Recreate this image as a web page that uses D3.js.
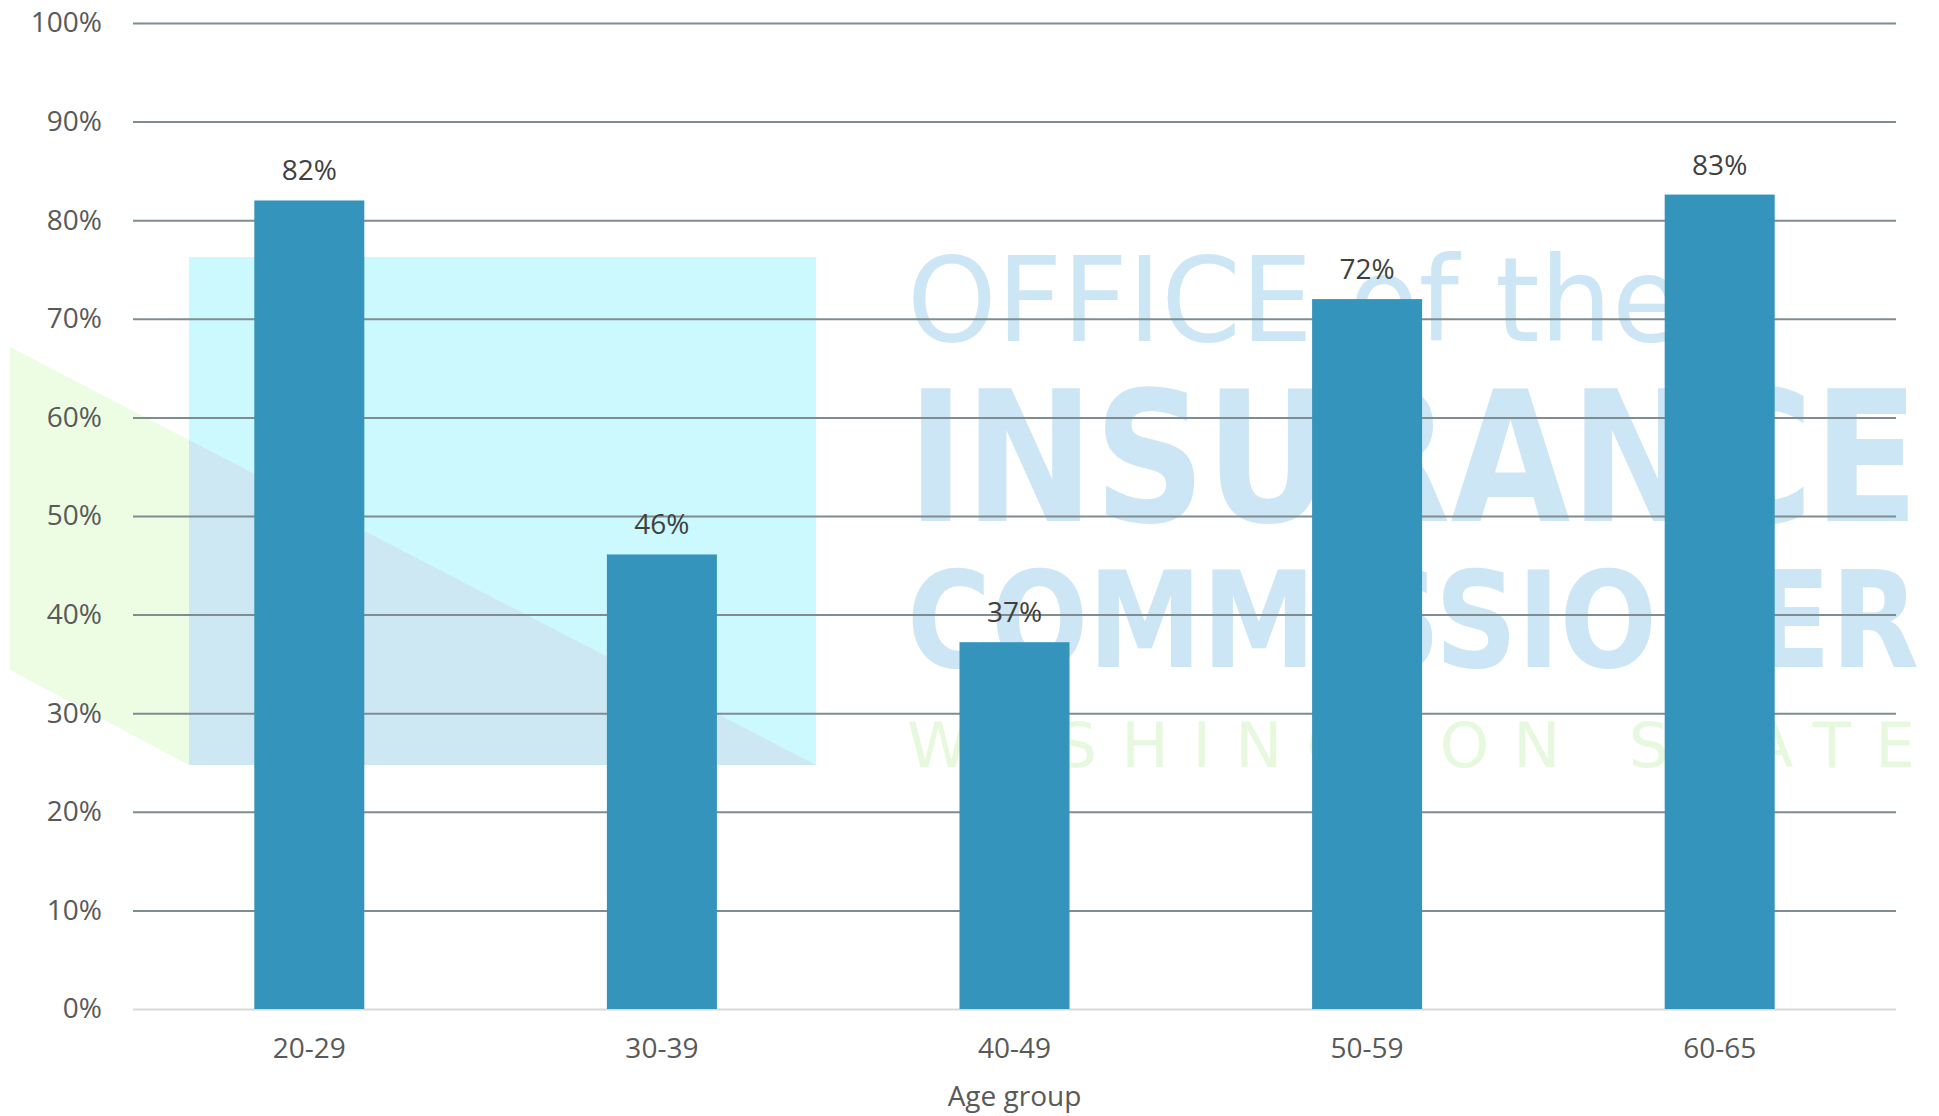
<!DOCTYPE html>
<html>
<head>
<meta charset="utf-8">
<script src="https://cdn.jsdelivr.net/npm/d3@7"></script>
<style>
  body { margin: 0; background: #fff; }
  text { font-family: "Open Sans", sans-serif; }
</style>
</head>
<body>
<div id="chart-container"></div>
<script>
const ageGroups = ["20-29", "30-39", "40-49", "50-59", "60-65"];
const shareValues = [0.82, 0.461, 0.372, 0.72, 0.826];
const yTicks = [0, 0.1, 0.2, 0.3, 0.4, 0.5, 0.6, 0.7, 0.8, 0.9, 1];
const xAxisName = "Age group";

const margin = { top: 23, right: 43, bottom: 107, left: 133 };
const width = 1939 - margin.left - margin.right;
const height = 1116 - margin.top - margin.bottom;

var root = d3.select("#chart-container")
    .append("svg")
    .attr("width", width + margin.left + margin.right)
    .attr("height", height + margin.top + margin.bottom);

// Watermark (background logo)
var mark = root.append("g").attr("class", "watermark");

mark.append("rect")
    .attr("x", 189).attr("y", 257)
    .attr("width", 627).attr("height", 508)
    .attr("fill", "#ccf9fd");

mark.append("polygon")
    .attr("points", "189,440 816,765 189,765")
    .attr("fill", "#cee8f3");

mark.append("polygon")
    .attr("points", "10,347 189,440 189,765 10,670")
    .attr("fill", "#ecfde4");

mark.append("text")
    .attr("x", 907).attr("y", 341)
    .attr("textLength", 775).attr("lengthAdjust", "spacingAndGlyphs")
    .style("font-family", "'DejaVu Sans', sans-serif")
    .style("font-size", "118px")
    .style("fill", "#cde6f5")
    .text("OFFICE of the");

mark.append("text")
    .attr("x", 907).attr("y", 521)
    .attr("textLength", 1012).attr("lengthAdjust", "spacingAndGlyphs")
    .style("font-family", "'DejaVu Sans Condensed', 'DejaVu Sans', sans-serif")
    .style("font-weight", "bold")
    .style("font-size", "182px")
    .style("fill", "#cde6f5")
    .text("INSURANCE");

mark.append("text")
    .attr("x", 907).attr("y", 667)
    .attr("textLength", 1012).attr("lengthAdjust", "spacingAndGlyphs")
    .style("font-family", "'DejaVu Sans Condensed', 'DejaVu Sans', sans-serif")
    .style("font-weight", "bold")
    .style("font-size", "134px")
    .style("fill", "#cde6f5")
    .text("COMMISSIONER");

mark.append("text")
    .attr("x", 907).attr("y", 767)
    .attr("textLength", 1008).attr("lengthAdjust", "spacing")
    .style("font-family", "'DejaVu Sans', sans-serif")
    .style("font-size", "63px")
    .style("fill", "#e6f8de")
    .text("WASHINGTON STATE");

var svg = root.append("g")
    .attr("transform", `translate(${margin.left}, ${margin.top})`);

// Scales
var xScale = d3.scaleBand()
    .domain(ageGroups)
    .range([0, width])
    .paddingInner(0.688)
    .paddingOuter(0.344);

var yScale = d3.scaleLinear()
    .domain([0, 1])
    .range([height, 0]);

// Gridlines + y labels
var yAxis = svg.append("g")
    .call(d3.axisLeft(yScale)
        .tickValues(yTicks)
        .tickSize(-width)
        .tickPadding(31)
        .tickFormat(d3.format(".0%")));

yAxis.select(".domain").remove();
yAxis.selectAll(".tick line")
    .attr("stroke", d => d === 0 ? "#d9d9d9" : "#7f8d90")
    .attr("stroke-width", 2);
yAxis.selectAll(".tick text")
    .style("font-family", "'Open Sans', sans-serif")
    .style("font-size", "28px")
    .style("fill", "#595959");

// Bars
var data = ageGroups.map((g, i) => ({ group: g, value: shareValues[i] }));

svg.selectAll(".bar")
    .data(data)
    .enter().append("rect")
    .attr("class", "bar")
    .attr("x", d => xScale(d.group))
    .attr("y", d => yScale(d.value))
    .attr("width", xScale.bandwidth())
    .attr("height", d => height - yScale(d.value))
    .attr("fill", "#3594bb");

// Value labels
svg.selectAll(".value-label")
    .data(data)
    .enter().append("text")
    .attr("class", "value-label")
    .attr("x", d => xScale(d.group) + xScale.bandwidth() / 2)
    .attr("y", d => yScale(d.value) - 20)
    .attr("text-anchor", "middle")
    .style("font-size", "28px")
    .style("fill", "#404040")
    .text(d => d3.format(".0%")(d.value));

// x-axis
var xAxis = svg.append("g")
    .attr("transform", `translate(0, ${height})`)
    .call(d3.axisBottom(xScale).tickSize(0).tickPadding(29));

xAxis.select(".domain").remove();
xAxis.selectAll(".tick text")
    .style("font-family", "'Open Sans', sans-serif")
    .style("font-size", "28px")
    .style("fill", "#595959");

// x-axis label
svg.append("text")
    .attr("x", width / 2)
    .attr("y", height + 97)
    .attr("text-anchor", "middle")
    .style("font-size", "28px")
    .style("fill", "#595959")
    .text(xAxisName);
</script>
</body>
</html>
